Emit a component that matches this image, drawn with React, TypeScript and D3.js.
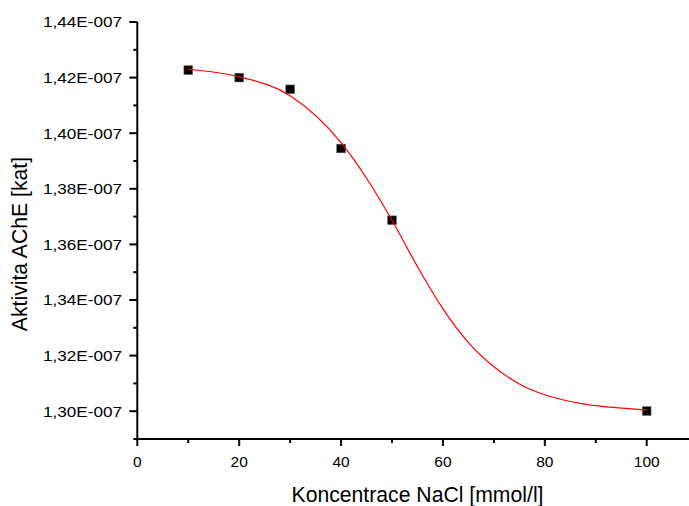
import React, { useEffect, useRef } from "react";
import * as d3 from "d3";

// Measured activity (values in units of 1E-007 kat)
const concentrations = [10, 20, 30, 40, 50, 100];
const activities = [1.4227, 1.4200, 1.4158, 1.3945, 1.3687, 1.30005];

// Fitted sigmoid curve sampled along the concentration axis
const fitX = [10, 20, 30, 40, 45, 50, 55, 60, 65, 70, 75, 80, 85, 90, 95, 100];
const fitY = [1.4230, 1.4203, 1.4135, 1.3966, 1.3838, 1.3687, 1.3520, 1.3368, 1.3247, 1.3160, 1.3098, 1.3059, 1.3035, 1.3020, 1.3011, 1.3005];

const xMajorTicks = [0, 20, 40, 60, 80, 100];
const xMinorTicks = [10, 30, 50, 70, 90];
const yMajorTicks = [1.30, 1.32, 1.34, 1.36, 1.38, 1.40, 1.42, 1.44];
const yMinorTicks = [1.29, 1.31, 1.33, 1.35, 1.37, 1.39, 1.41, 1.43];

const xTitle = "Koncentrace NaCl [mmol/l]";
const yTitle = "Aktivita AChE [kat]";

const W = 689;
const H = 506;
const FONT = "'Liberation Sans', Arial, sans-serif";

export default function App() {
  const ref = useRef<SVGSVGElement | null>(null);

  useEffect(() => {
    const svg = d3.select(ref.current);
    svg.selectAll("*").remove();

    const x = d3.scaleLinear().domain([0, 108.4]).range([137.3, 689.5]);
    const y = d3.scaleLinear().domain([1.29, 1.44]).range([439, 22]);

    const axisG = svg.append("g").attr("stroke", "#000").attr("fill", "none");

    // axis lines
    axisG.append("line")
      .attr("x1", x(0)).attr("x2", x(0))
      .attr("y1", y(1.44)).attr("y2", y(1.29) + 1)
      .attr("stroke-width", 2);
    axisG.append("line")
      .attr("x1", x(0) - 1).attr("x2", W)
      .attr("y1", y(1.29)).attr("y2", y(1.29))
      .attr("stroke-width", 2);

    // x ticks
    axisG.selectAll(".xmaj").data(xMajorTicks).join("line")
      .attr("x1", (d) => x(d)).attr("x2", (d) => x(d))
      .attr("y1", y(1.29)).attr("y2", y(1.29) + 7)
      .attr("stroke-width", 2);
    axisG.selectAll(".xmin").data(xMinorTicks).join("line")
      .attr("x1", (d) => x(d)).attr("x2", (d) => x(d))
      .attr("y1", y(1.29)).attr("y2", y(1.29) + 4)
      .attr("stroke-width", 2);

    // y ticks
    axisG.selectAll(".ymaj").data(yMajorTicks).join("line")
      .attr("x1", x(0) - 8).attr("x2", x(0))
      .attr("y1", (d) => y(d)).attr("y2", (d) => y(d))
      .attr("stroke-width", 2);
    axisG.selectAll(".ymin").data(yMinorTicks).join("line")
      .attr("x1", x(0) - 4).attr("x2", x(0))
      .attr("y1", (d) => y(d)).attr("y2", (d) => y(d))
      .attr("stroke-width", 2);

    const fmtY = (v: number) => v.toFixed(2).replace(".", ",") + "E-007";

    svg.append("g").selectAll("text").data(yMajorTicks).join("text")
      .attr("x", 122).attr("y", (d) => y(d) + 5.4)
      .attr("text-anchor", "end")
      .attr("font-family", FONT).attr("font-size", 15.5)
      .attr("textLength", 79)
      .attr("lengthAdjust", "spacingAndGlyphs")
      .text((d) => fmtY(d));

    svg.append("g").selectAll("text").data(xMajorTicks).join("text")
      .attr("x", (d) => x(d)).attr("y", 467)
      .attr("text-anchor", "middle")
      .attr("font-family", FONT).attr("font-size", 15.5)
      .text((d) => String(d));

    svg.append("text")
      .attr("x", 417.5).attr("y", 502)
      .attr("text-anchor", "middle")
      .attr("font-family", FONT).attr("font-size", 21.2)
      .text(xTitle);

    svg.append("text")
      .attr("transform", `translate(27,244) rotate(-90)`)
      .attr("text-anchor", "middle")
      .attr("font-family", FONT).attr("font-size", 21.2)
      .text(yTitle);

    // data markers
    const pts = concentrations.map((c, i) => [c, activities[i]] as [number, number]);
    const s = 8.6;
    svg.append("g").selectAll("rect").data(pts).join("rect")
      .attr("x", (d) => x(d[0]) - s / 2)
      .attr("y", (d) => y(d[1]) - s / 2)
      .attr("width", s).attr("height", s)
      .attr("fill", "#000")
      .attr("stroke", "#555").attr("stroke-width", 0.6);

    // fitted curve
    const fit = fitX.map((c, i) => [c, fitY[i]] as [number, number]);
    const line = d3.line<[number, number]>()
      .x((d) => x(d[0])).y((d) => y(d[1]))
      .curve(d3.curveMonotoneX);
    svg.append("path")
      .datum(fit)
      .attr("d", line)
      .attr("fill", "none")
      .attr("stroke", "#ff0000")
      .attr("stroke-width", 1.2);
  }, []);

  return (
    <svg
      ref={ref}
      width={W}
      height={H}
      style={{ position: "absolute", left: 0, top: 0, background: "#fff" }}
    />
  );
}
